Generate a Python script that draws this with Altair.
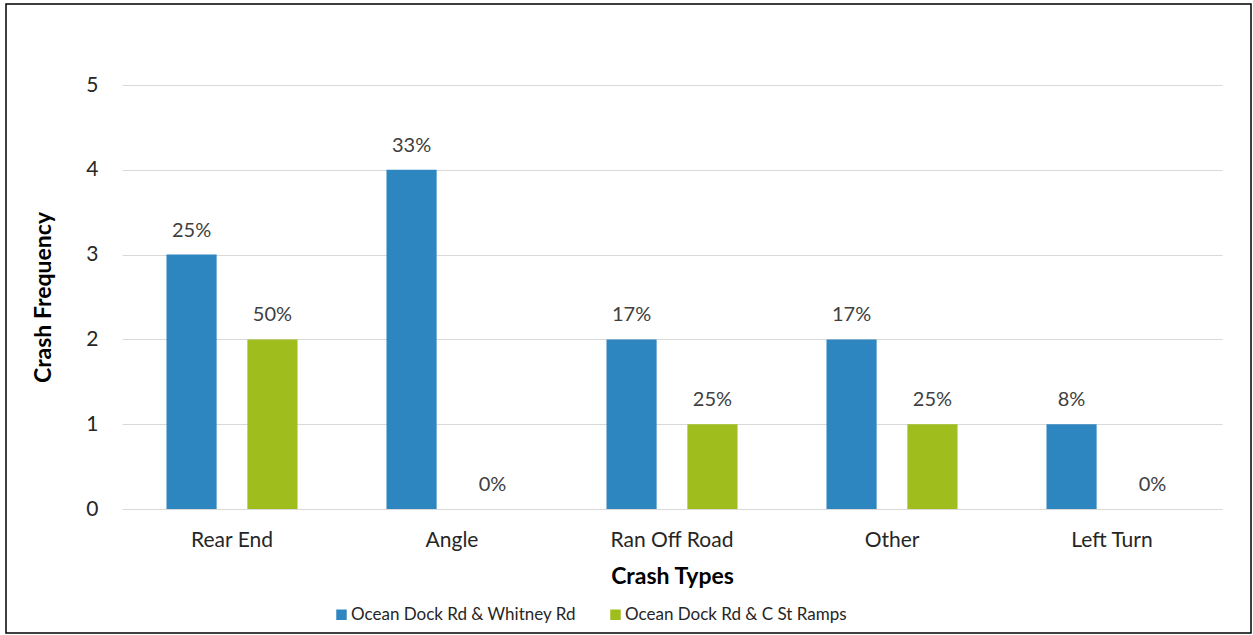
import altair as alt
import pandas as pd

categories = ["Rear End", "Angle", "Ran Off Road", "Other", "Left Turn"]
series_names = ["Ocean Dock Rd & Whitney Rd", "Ocean Dock Rd & C St Ramps"]
whitney = [3, 4, 2, 2, 1]
cst = [2, 0, 1, 1, 0]
colors = ["#2E86C1", "#9FBD1C"]

rows = []
for name, vals in zip(series_names, [whitney, cst]):
    total = sum(vals)
    for c, v in zip(categories, vals):
        rows.append({"type": c, "series": name, "freq": v,
                     "pct": f"{round(v / total * 100)}%"})
df = pd.DataFrame(rows)

FONT = "Lato"

base = alt.Chart(df).encode(
    x=alt.X("type:N", sort=categories,
            scale=alt.Scale(paddingInner=0, paddingOuter=0),
            axis=alt.Axis(title="Crash Types", labelAngle=0, labelFontSize=21,
                          labelColor="#262626", labelFont=FONT, labelPadding=20,
                          titleFont=FONT, titleFontSize=23, titleFontWeight="bold",
                          titleColor="#000000", titlePadding=15,
                          domain=True, domainColor="#D9D9D9", ticks=False)),
    xOffset=alt.XOffset("series:N", sort=series_names,
                        scale=alt.Scale(paddingInner=0.38, paddingOuter=0.55)),
)

bars = base.mark_bar().encode(
    y=alt.Y("freq:Q", scale=alt.Scale(domain=[0, 5]),
            axis=alt.Axis(title="Crash Frequency", values=[0, 1, 2, 3, 4, 5],
                          format="d", labelFontSize=21, labelColor="#262626",
                          labelFont=FONT, labelPadding=24,
                          titleFont=FONT, titleFontSize=23, titleFontWeight="bold",
                          titleColor="#000000", titlePadding=30,
                          domain=False, ticks=False, grid=True,
                          gridColor="#D9D9D9")),
    color=alt.Color("series:N", sort=series_names,
                    scale=alt.Scale(domain=series_names, range=colors),
                    legend=alt.Legend(title=None, orient="none", direction="horizontal",
                                      legendX=211, legendY=521,
                                      symbolType="square", symbolSize=110,
                                      symbolStrokeWidth=0,
                                      labelFont=FONT, labelFontSize=17,
                                      labelLimit=500,
                                      labelColor="#262626", columnPadding=30,
                                      labelOffset=1)),
)

labels = base.mark_text(baseline="bottom", dy=-14, fontSize=20, font=FONT,
                        color="#404040").encode(
    y=alt.Y("freq:Q"),
    text="pct:N",
)

border = alt.Chart(pd.DataFrame({"a": [0]})).mark_rect(
    fill=None, stroke="#000000", strokeWidth=1.5, clip=False
).encode(x=alt.value(-116), x2=alt.value(1129), y=alt.value(-81), y2=alt.value(548))

chart = alt.layer(bars, labels, border).properties(
    width=1100, height=424,
    autosize=alt.AutoSizeParams(type="none"),
    padding={"left": 122, "top": 85, "right": 31, "bottom": 126},
    background="white",
).configure_view(stroke=None)

chart.save("out.html", embed_options={"renderer": "svg", "actions": False})
